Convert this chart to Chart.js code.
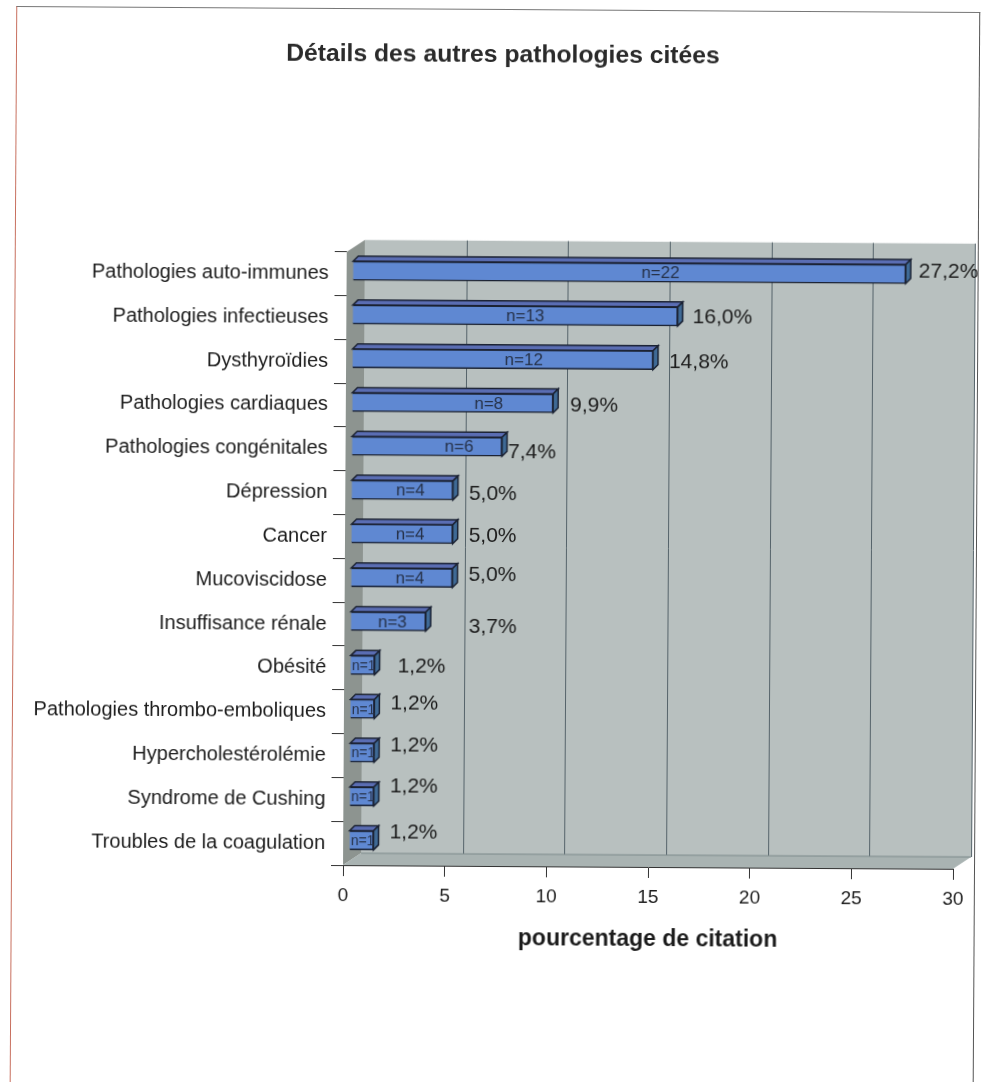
<!DOCTYPE html>
<html>
<head>
<meta charset="utf-8">
<title>Détails des autres pathologies citées</title>
<script src="https://cdn.jsdelivr.net/npm/chart.js@4/dist/chart.umd.min.js"></script>
<style>
  html, body { margin: 0; padding: 0; background: #fff; overflow: hidden; }
  #page { position: relative; width: 983px; height: 1082px; transform: rotate(0.35deg); }
  #frame { position: absolute; left: 13px; top: 9px; width: 962px; height: 1100px;
    border-top: 1px solid #777; border-left: 1px solid #c8705f; border-right: 1px solid #555; }
  canvas { position: absolute; left: 0; top: 0; }
</style>
</head>
<body>
<div id="page">
  <div id="frame"></div>
  <canvas id="chart" width="983" height="1082"></canvas>
</div>
<script>
const categories = [
  "Pathologies auto-immunes", "Pathologies infectieuses", "Dysthyroïdies",
  "Pathologies cardiaques", "Pathologies congénitales", "Dépression", "Cancer",
  "Mucoviscidose", "Insuffisance rénale", "Obésité", "Pathologies thrombo-emboliques",
  "Hypercholestérolémie", "Syndrome de Cushing", "Troubles de la coagulation",
];
const percentages = [27.2, 16.0, 14.8, 9.9, 7.4, 5.0, 5.0, 5.0, 3.7, 1.2, 1.2, 1.2, 1.2, 1.2];
const counts = [22, 13, 12, 8, 6, 4, 4, 4, 3, 1, 1, 1, 1, 1];

// the labels in the original are hand placed, so nudge each one
const labelGap = [19, 21, 22, 23, 12, 22, 22, 22, 49, 29, 22, 22, 22, 22];
const labelLift = [-5, -2, -1, -1, 2, 1, -1, -6, 2, -2, -8, -10, -13, -11];
const countShift = [31, 10, 21, 36, 32, 8, 8, 8, 4, 0, 0, 0, 0, 0];

const wallDx = 18;
const wallDy = -12;
const barDx = 6;
const barDy = -3;
const faceDx = 5;
const faceDy = -5;
const fontName = "'Liberation Sans', Arial, sans-serif";

function poly(ctx, points, fill, stroke) {
  ctx.beginPath();
  points.forEach((p, i) => (i ? ctx.lineTo(p[0], p[1]) : ctx.moveTo(p[0], p[1])));
  ctx.closePath();
  ctx.fillStyle = fill;
  ctx.fill();
  if (stroke) {
    ctx.strokeStyle = stroke;
    ctx.lineWidth = 1.5;
    ctx.stroke();
  }
}

const box3d = {
  id: "box3d",
  afterLayout(chart) {
    // the title sits right of the page centre in the original
    chart.titleBlock.left += 8.5;
    chart.titleBlock.right += 8.5;
  },
  beforeDatasetsDraw(chart) {
    const { ctx, chartArea: a, scales } = chart;
    ctx.save();
    // back wall, left wall, floor
    poly(ctx, [[a.left + wallDx, a.top + wallDy], [a.right + wallDx, a.top + wallDy],
      [a.right + wallDx, a.bottom + wallDy], [a.left + wallDx, a.bottom + wallDy]], "#b8c0bf");
    poly(ctx, [[a.left, a.top], [a.left + wallDx, a.top + wallDy],
      [a.left + wallDx, a.bottom + wallDy], [a.left, a.bottom]], "#8d9490");
    poly(ctx, [[a.left, a.bottom], [a.left + wallDx, a.bottom + wallDy],
      [a.right + wallDx, a.bottom + wallDy], [a.right, a.bottom]], "#a9b3b2");

    ctx.strokeStyle = "#55636a";
    ctx.lineWidth = 1;
    scales.x.ticks.forEach((t) => {
      if (t.value === 0) return;
      const x = Math.round(scales.x.getPixelForValue(t.value)) + 0.5;
      ctx.beginPath();
      ctx.moveTo(x + wallDx, a.top + wallDy);
      ctx.lineTo(x + wallDx, a.bottom + wallDy);
      ctx.stroke();
    });
    ctx.beginPath();
    ctx.moveTo(a.left + wallDx, a.bottom + wallDy);
    ctx.lineTo(a.right + wallDx, a.bottom + wallDy);
    ctx.strokeStyle = "#7d8a8a";
    ctx.stroke();
    ctx.restore();

    // the bars stand away from the axis, like the walls do
    ctx.save();
    ctx.translate(barDx, barDy);
  },
  afterDatasetsDraw(chart) {
    const { ctx } = chart;
    const meta = chart.getDatasetMeta(0);
    const outline = "#1b2233";

    meta.data.forEach((bar, i) => {
      const top = bar.y - bar.height / 2;
      const bottom = bar.y + bar.height / 2;
      poly(ctx, [[bar.base, top], [bar.base + faceDx, top + faceDy],
        [bar.x + faceDx, top + faceDy], [bar.x, top]], "#5a6db3", outline);
      poly(ctx, [[bar.x, top], [bar.x + faceDx, top + faceDy],
        [bar.x + faceDx, bottom + faceDy], [bar.x, bottom]], "#3f6a96", outline);

      ctx.font = (counts[i] === 1 ? "14px " : "17px ") + fontName;
      ctx.textAlign = "center";
      ctx.textBaseline = "middle";
      ctx.fillStyle = "#26324a";
      const textX = counts[i] === 1 ? bar.base + 13 : (bar.base + bar.x) / 2 + countShift[i];
      ctx.fillText("n=" + counts[i], textX, bar.y + 1);

      ctx.font = "21px " + fontName;
      ctx.textAlign = "left";
      ctx.fillStyle = "#1c1c1c";
      const label = percentages[i].toFixed(1).replace(".", ",") + "%";
      ctx.fillText(label, bar.x + labelGap[i] - barDx, bar.y - barDy + labelLift[i]);
    });
    ctx.restore();
  },
};

new Chart(document.getElementById("chart").getContext("2d"), {
  type: "bar",
  data: {
    labels: categories,
    datasets: [
      {
        data: percentages,
        backgroundColor: "#5f88d2",
        borderColor: "#1b2233",
        borderWidth: 1.5,
        barThickness: 19,
        clip: false,
      },
    ],
  },
  options: {
    indexAxis: "y",
    responsive: false,
    animation: false,
    devicePixelRatio: 1,
    layout: { padding: { left: 28, right: 28, top: 0, bottom: 126 } },
    plugins: {
      legend: { display: false },
      tooltip: { enabled: false },
      title: {
        display: true,
        text: "Détails des autres pathologies citées",
        color: "#2a2a2a",
        font: { family: fontName, size: 24.7, weight: "bold" },
        padding: { top: 40, bottom: 183 },
      },
    },
    scales: {
      x: {
        min: 0,
        max: 30,
        afterFit: (scale) => { scale.height = 90; },
        ticks: {
          stepSize: 5,
          color: "#1c1c1c",
          padding: 8,
          font: { family: fontName, size: 19 },
        },
        grid: { drawOnChartArea: false, color: "#333", tickLength: 11 },
        border: { color: "#333" },
        title: {
          display: true,
          text: "pourcentage de citation",
          color: "#1c1c1c",
          padding: { top: 12 },
          font: { family: fontName, size: 23, weight: "bold" },
        },
      },
      y: {
        afterFit: (scale) => { scale.width = 317; },
        ticks: {
          color: "#1c1c1c",
          padding: 6,
          autoSkip: false,
          font: { family: fontName, size: 20 },
        },
        grid: { drawOnChartArea: false, color: "#333", tickLength: 12 },
        border: { display: false },
      },
    },
  },
  plugins: [box3d],
});
</script>
</body>
</html>
